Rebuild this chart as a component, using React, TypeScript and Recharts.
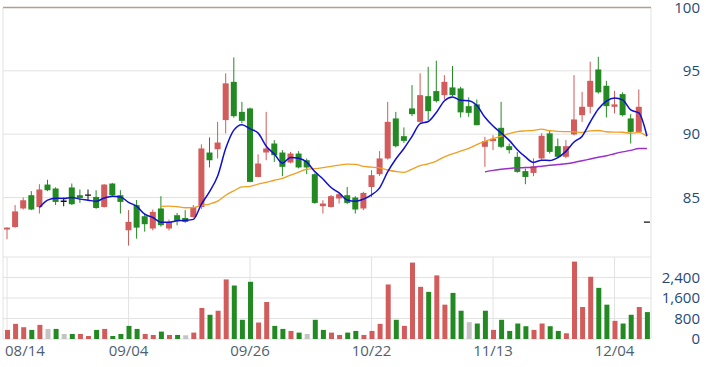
import React from "react";
import {
  ComposedChart,
  Bar,
  Line,
  XAxis,
  YAxis,
  CartesianGrid,
  ReferenceLine,
  Cell,
} from "recharts";

// trading days (TW market, 2024)
const dates: string[] = [
  "08/14", "08/15", "08/16", "08/19", "08/20", "08/21", "08/22", "08/23", "08/26", "08/27",
  "08/28", "08/29", "08/30", "09/02", "09/03", "09/04", "09/05", "09/06", "09/09", "09/10",
  "09/11", "09/12", "09/13", "09/16", "09/18", "09/19", "09/20", "09/23", "09/24", "09/25",
  "09/26", "09/27", "09/30", "10/01", "10/04", "10/07", "10/08", "10/09", "10/11", "10/14",
  "10/15", "10/16", "10/17", "10/18", "10/21", "10/22", "10/23", "10/24", "10/25", "10/28",
  "10/29", "10/30", "11/01", "11/04", "11/05", "11/06", "11/07", "11/08", "11/11", "11/12",
  "11/13", "11/14", "11/15", "11/18", "11/19", "11/20", "11/21", "11/22", "11/25", "11/26",
  "11/27", "11/28", "11/29", "12/02", "12/03", "12/04", "12/05", "12/06", "12/09", "12/10",
];

const opens: number[] = [
  82.47, 82.67, 84.13, 85.18, 84.25, 86.02, 85.71, 84.7, 85.79, 85.18,
  85.18, 85.04, 84.25, 86.1, 85.18, 82.41, 84.39, 83.52, 82.55, 84.13,
  82.55, 83.6, 83.38, 83.46, 84.25, 88.55, 88.81, 91.11, 94.13, 91.76,
  92.03, 86.62, 88.55, 89.26, 88.55, 87.76, 88.47, 87.94, 86.84, 84.31,
  84.25, 84.92, 85.18, 85.0, 84.13, 85.83, 86.84, 88.08, 91.24, 89.84,
  92.03, 90.97, 93.0, 93.4, 93.08, 93.69, 93.61, 92.21, 92.35, 89.0,
  89.45, 90.5, 89.05, 88.21, 87.08, 86.94, 88.08, 90.06, 89.05, 88.21,
  89.98, 91.5, 92.16, 95.11, 93.82, 92.16, 93.16, 91.24, 90.18, 83.05,
];
const highs: number[] = [
  82.65, 84.4, 85.0, 85.5, 86.05, 86.4, 85.8, 85.0, 86.1, 85.63,
  85.63, 85.57, 86.05, 86.15, 85.57, 84.0, 84.8, 83.7, 84.05, 85.1,
  83.26, 83.78, 84.0, 84.4, 89.2, 89.74, 90.97, 94.8, 96.06, 92.55,
  92.1, 88.4, 91.76, 89.53, 88.74, 88.6, 88.66, 88.08, 86.9, 84.78,
  85.2, 85.36, 85.83, 85.1, 85.45, 87.15, 88.66, 92.55, 91.76, 90.53,
  93.87, 94.8, 95.32, 95.8, 94.66, 95.38, 93.74, 92.9, 92.74, 89.79,
  89.92, 92.55, 89.26, 88.6, 87.29, 88.08, 90.06, 90.32, 89.66, 89.53,
  94.66, 93.34, 95.72, 96.11, 94.21, 93.42, 93.3, 91.58, 93.53, 83.05,
];
const lows: number[] = [
  81.7, 82.6, 84.05, 84.0, 83.73, 85.5, 84.4, 84.3, 84.4, 84.57,
  84.78, 84.1, 84.2, 85.1, 83.73, 81.2, 81.75, 82.3, 82.4, 82.7,
  82.4, 82.8, 83.0, 83.4, 84.1, 87.37, 88.08, 90.06, 91.3, 90.85,
  86.2, 86.6, 87.94, 87.81, 86.68, 87.7, 87.3, 86.84, 84.5, 83.73,
  84.2, 84.52, 84.47, 83.73, 84.0, 85.04, 86.7, 88.0, 88.95, 89.31,
  91.42, 90.9, 91.11, 92.5, 92.74, 93.0, 91.32, 91.37, 90.7, 87.42,
  88.74, 88.9, 88.47, 86.95, 86.05, 86.68, 88.0, 88.47, 88.1, 88.1,
  89.9, 90.97, 91.64, 93.2, 91.32, 91.64, 91.4, 89.26, 90.1, 83.05,
];
const closes: number[] = [
  82.62, 83.9, 84.78, 84.05, 85.63, 85.57, 84.65, 84.7, 84.47, 84.96,
  85.18, 84.17, 86.02, 85.18, 84.65, 83.07, 82.62, 82.89, 83.86, 82.81,
  83.07, 83.15, 83.07, 84.25, 88.87, 87.94, 89.34, 94.01, 91.42, 91.05,
  86.23, 87.68, 88.87, 88.34, 87.42, 88.47, 87.37, 87.37, 84.57, 84.52,
  85.1, 85.26, 84.57, 84.05, 85.36, 86.76, 88.08, 90.97, 89.05, 89.47,
  91.58, 93.08, 91.82, 92.61, 94.13, 93.08, 91.72, 91.68, 90.71, 89.45,
  89.63, 89.0, 88.74, 87.02, 86.62, 87.47, 89.87, 88.6, 88.21, 89.05,
  91.16, 92.16, 94.21, 93.3, 92.21, 92.35, 91.5, 90.18, 92.16, 83.05,
];

const volumes: number[] = [
  355, 591, 460, 355, 552, 394, 394, 197, 197, 197,
  118, 355, 394, 118, 197, 512, 394, 197, 158, 289,
  158, 158, 145, 250, 1209, 946, 1103, 2325, 2088, 749,
  2233, 643, 1445, 512, 394, 315, 250, 197, 749, 355,
  250, 158, 250, 315, 158, 315, 591, 2128, 749, 512,
  2982, 2036, 1839, 2482, 1340, 1799, 1103, 657, 604, 1103,
  355, 749, 315, 604, 499, 355, 604, 499, 315, 223,
  3021, 1248, 2429, 1996, 1340, 709, 604, 946, 1248, 1050,
];
// change vs previous close: u = up, d = down, f = flat (10 days per row)
const volumeDir: string[] = [
  "uuudufdfdu",
  "ududddduud",
  "udfuuduudd",
  "duuddudfdd",
  "uudduuuudu",
  "uuduuddfdd",
  "udddduuddu",
  "uuudduddud",
].join("").split("");

const ma5Values: number[] = [
  84.2, 84.79, 84.94, 84.92, 85.0, 84.87, 84.79, 84.7, 84.96, 85.1,
  85.04, 84.62, 84.31, 83.68, 83.42, 83.05, 83.05, 83.16, 83.19, 83.27,
  84.48, 85.46, 86.69, 88.88, 90.32, 90.75, 90.41, 90.08, 89.05, 88.43,
  87.71, 88.16, 88.09, 87.79, 87.04, 86.46, 85.79, 85.36, 84.8, 84.7,
  84.87, 85.2, 85.76, 87.04, 88.04, 88.87, 89.83, 90.83, 91.0, 91.71,
  92.64, 92.94, 92.67, 92.64, 92.26, 91.33, 90.64, 90.09, 89.51, 88.77,
  88.2, 87.77, 87.94, 87.92, 88.15, 88.64, 89.38, 89.84, 90.96, 91.98,
  92.61, 92.85, 92.71, 91.91, 91.68, 89.85,
];
const ma20Values: number[] = [
  84.29, 84.31, 84.27, 84.19, 84.2, 84.36, 84.48, 84.71, 85.18, 85.53,
  85.83, 85.88, 86.06, 86.2, 86.36, 86.5, 86.77, 87.01, 87.23, 87.27,
  87.35, 87.45, 87.56, 87.63, 87.62, 87.45, 87.39, 87.33, 87.17, 87.05,
  86.98, 87.24, 87.51, 87.66, 87.87, 88.21, 88.44, 88.66, 88.87, 89.18,
  89.43, 89.65, 89.84, 90.05, 90.2, 90.26, 90.3, 90.39, 90.27, 90.22,
  90.2, 90.18, 90.14, 90.26, 90.29, 90.19, 90.16, 90.15, 90.07, 90.14,
  89.82,
];
const ma60Values: number[] = [
  87.02, 87.14, 87.22, 87.29, 87.34, 87.36, 87.39, 87.47, 87.54, 87.6,
  87.67, 87.77, 87.9, 88.04, 88.17, 88.3, 88.46, 88.6, 88.72, 88.86,
  88.87,
];

const dateTicks = ["08/14", "09/04", "09/26", "10/22", "11/13", "12/04"];
const priceTicks = [85, 90, 95, 100];
const volumeTicks = [0, 800, 1600, 2400, 3200];

const RED = "#d25b5b";
const GREEN = "#238a23";
const GRAY = "#c4c4c4";
const GRID = "#e2e2e2";
const AXIS_TEXT = "#1f4b7a";
const DATE_TEXT = "#4f5f70";
const FONT = "'Open Sans', 'DejaVu Sans', sans-serif";

// MA series start late; pad the front with gaps
const lead = (values: number[]) =>
  dates.map((_, i) => {
    const k = i - (dates.length - values.length);
    return k >= 0 ? values[k] : null;
  });
const ma5 = lead(ma5Values);
const ma20 = lead(ma20Values);
const ma60 = lead(ma60Values);

const data = dates.map((date, i) => ({
  date,
  open: opens[i],
  high: highs[i],
  low: lows[i],
  close: closes[i],
  range: [lows[i], highs[i]],
  volume: volumes[i],
  dir: volumeDir[i],
  ma5: ma5[i],
  ma20: ma20[i],
  ma60: ma60[i],
}));

const Candle = (props: any) => {
  const { x, y, width, height, payload } = props;
  const { open, close, high, low } = payload;
  const top = Math.min(y, y + height);
  const h = Math.abs(height);
  const span = high - low;
  const py = (p: number) => (span > 0 ? top + ((high - p) / span) * h : top);
  const color = close > open ? RED : close < open ? GREEN : "#111";
  const cx = x + width / 2;
  const bTop = py(Math.max(open, close));
  const bBot = py(Math.min(open, close));
  return (
    <g>
      {span > 0 && (
        <line x1={cx} x2={cx} y1={top} y2={top + h} stroke={color} strokeWidth={1} />
      )}
      {bBot - bTop >= 1 ? (
        <rect x={x} y={bTop} width={width} height={bBot - bTop} fill={color} />
      ) : (
        <line x1={x} x2={x + width} y1={bTop} y2={bTop} stroke={color} strokeWidth={1.3} />
      )}
    </g>
  );
};

const PriceTick = (props: any) => {
  const { x, y, payload } = props;
  return (
    <text x={x + 47} y={y} dy="0.35em" textAnchor="end" fill={AXIS_TEXT} fontSize={15} fontFamily={FONT}>
      {payload.value}
    </text>
  );
};

const VolumeTick = (props: any) => {
  const { x, y, payload } = props;
  if (payload.value === 3200) return null;
  return (
    <text x={x + 47} y={y} dy="0.35em" textAnchor="end" fill={AXIS_TEXT} fontSize={15} fontFamily={FONT}>
      {Number(payload.value).toLocaleString("en-US")}
    </text>
  );
};

const DateTick = (props: any) => {
  const { x, y, payload } = props;
  const first = payload.value === dates[0];
  return (
    <text
      x={first ? x - 2 : x}
      y={y}
      dy="0.71em"
      textAnchor={first ? "start" : "middle"}
      fill={DATE_TEXT}
      fontSize={15}
      fontFamily={FONT}
    >
      {payload.value}
    </text>
  );
};

const App: React.FC = () => {
  return (
    <div style={{ position: "absolute", left: 0, top: 0, width: 706, height: 367, background: "#fff" }}>
      <ComposedChart width={706} height={257} data={data} margin={{ top: 7.5, right: 0, left: 3, bottom: 0 }}>
        <CartesianGrid stroke={GRID} strokeWidth={1} />
        <XAxis
          dataKey="date"
          ticks={dateTicks}
          interval={0}
          height={0}
          tick={false}
          axisLine={false}
          tickLine={false}
        />
        <YAxis
          orientation="right"
          width={55}
          domain={[80.3, 100]}
          ticks={priceTicks}
          interval={0}
          axisLine={false}
          tickLine={false}
          tickSize={0}
          tick={<PriceTick />}
          allowDataOverflow
        />
        <ReferenceLine y={100} stroke="#b59e8c" strokeWidth={1.5} />
        <Bar dataKey="range" barSize={6} shape={<Candle />} isAnimationActive={false} />
        <Line type="monotone" dataKey="ma60" stroke="#9b2fc9" strokeWidth={1.5} dot={false} isAnimationActive={false} />
        <Line type="monotone" dataKey="ma20" stroke="#f0a020" strokeWidth={1.3} dot={false} isAnimationActive={false} />
        <Line type="monotone" dataKey="ma5" stroke="#1010d0" strokeWidth={1.5} dot={false} isAnimationActive={false} />
      </ComposedChart>
      <ComposedChart width={706} height={110} data={data} margin={{ top: 0, right: 0, left: 3, bottom: 0 }}>
        <CartesianGrid stroke={GRID} strokeWidth={1} />
        <XAxis
          dataKey="date"
          ticks={dateTicks}
          interval={0}
          height={28}
          axisLine={false}
          tickLine={false}
          tickSize={0}
          tickMargin={6}
          tick={<DateTick />}
        />
        <YAxis
          orientation="right"
          width={55}
          domain={[0, 3200]}
          ticks={volumeTicks}
          interval={0}
          axisLine={false}
          tickLine={false}
          tickSize={0}
          tick={<VolumeTick />}
        />
        <Bar dataKey="volume" barSize={5} isAnimationActive={false}>
          {data.map((d, i) => (
            <Cell key={i} fill={d.dir === "u" ? RED : d.dir === "d" ? GREEN : GRAY} />
          ))}
        </Bar>
      </ComposedChart>
    </div>
  );
};

export default App;
